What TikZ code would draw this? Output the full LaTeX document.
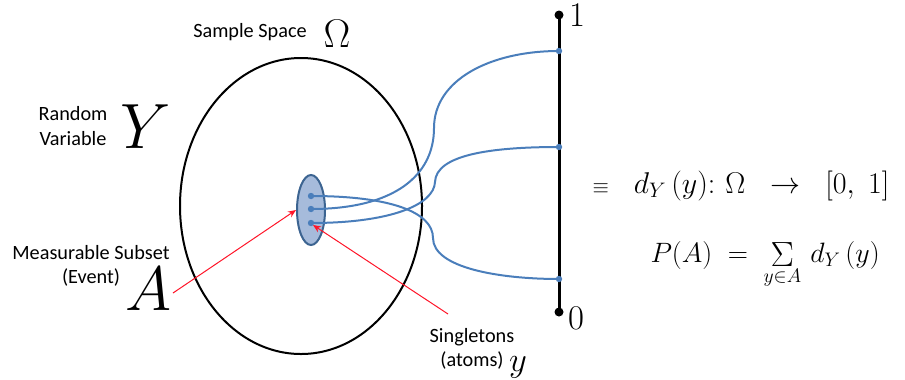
\documentclass[tikz,border=0pt]{standalone}
\usepackage{fix-cm}
\usepackage{graphicx}
\usepackage{fontspec}
\setsansfont{Carlito}
\usetikzlibrary{arrows.meta,shapes.geometric}

\definecolor{linkblue}{RGB}{74,126,187}
\definecolor{eventfill}{RGB}{166,187,219}
\definecolor{eventdraw}{RGB}{60,100,145}
\definecolor{pointer}{RGB}{255,20,40}

\tikzset{every picture/.style={line width=0.75pt}}
\tikzset{
  label/.style={font=\sffamily\fontsize{15.2}{18.5}\selectfont, align=center, inner sep=0},
  symb/.style={inner sep=0},
  formula/.style={inner sep=0, anchor=base west, font=\fontsize{21}{26}\selectfont},
  link/.style={color=linkblue, line width=1.5},
  pointer/.style={color=pointer, line width=0.75, -{Stealth[length=6pt,width=5pt]}},
  eventshape/.style={ellipse, draw=eventdraw, fill=eventfill, line width=1.5, minimum width=21pt, minimum height=52.5pt, inner sep=0}
}

\begin{document}
\begin{tikzpicture}[x=0.75pt,y=0.75pt,yscale=-1,xscale=1]
\useasboundingbox (0,0) rectangle (905,379);

%Shape: Ellipse [sample space]
\draw [line width=1.5] (301,206) ellipse [x radius=121, y radius=148];
%Shape: Ellipse [event]
\node [eventshape] (event) at (311,210) {};

% points of the event and of the unit interval
\coordinate (s1) at (311,196);
\coordinate (s2) at (311,209);
\coordinate (s3) at (311,223);
\coordinate (p1) at (559,51);
\coordinate (p2) at (559,147);
\coordinate (p3) at (559,279);
\coordinate (top) at (559,15);
\coordinate (bottom) at (559,312);

%Shape: Axis
\draw [line width=2.25] (top) -- (bottom);
\fill (top) circle [radius=4.5];
\fill (bottom) circle [radius=4.5];

%Shape: Curves
\draw [link] (s1) .. controls (390,196) and (433,212) .. (433,238) .. controls (433,268) and (500,279) .. (p3);
\draw [link] (s2) .. controls (395,209) and (434,175) .. (434,128) .. controls (434,80) and (490,51) .. (p1);
\draw [link] (s3) .. controls (390,223) and (434,205) .. (435,182) .. controls (436,155) and (490,147) .. (p2);
\foreach \p in {s1,s2,s3,p1,p2,p3}
  \fill [linkblue] (\p) circle [radius=3.2];

% Text Node
\node [label] (space) at (250,32) {Sample Space};
\node [symb, font=\fontsize{30}{30}\selectfont] (omega) at (337,34) {$\Omega$};
% Text Node
\node [label] (variable) at (73,126) {Random\\Variable};
\node [symb, font=\fontsize{48}{48}\selectfont] (Y) at (146,127) {$Y$};
% Text Node
\node [label] (subset) at (91,266) {Measurable Subset\\(Event)};
\node [symb, font=\fontsize{47}{47}\selectfont] (A) at (148,289) {$A$};
% Text Node
\node [label] (single) at (472,349) {Singletons\\(atoms)};
\node [symb, font=\fontsize{26}{26}\selectfont] (y) at (518,367) {$y$};
% Text Node
\node [symb, font=\fontsize{26}{26}\selectfont] (one) at (577,15) {$1$};
\node [symb, font=\fontsize{26}{26}\selectfont] (zero) at (576,318) {$0$};
% Text Node
\node [formula, font=\fontsize{22.5}{26}\selectfont] (density) at (592,193) {$\scriptstyle\equiv\textstyle\;\; d_Y\,(y)\colon\,\Omega\;\;\rightarrow\;\;[0,\;1]$};
\node [formula] (measure) at (650,262) {$P(A)\;=\;\mathop{\vcenter{\hbox{\scalebox{1.25}{$\Sigma$}}}}\limits_{y\in A}\, d_Y\,(y)$};

% pointers
\coordinate (fromA) at (173,293);
\coordinate (fromsingle) at (448,314);
\coordinate (nearatom) at (313,225);
\draw [pointer] (fromA) -- (event.west);
\draw [pointer] (fromsingle) -- (nearatom);

\end{tikzpicture}
\end{document}
